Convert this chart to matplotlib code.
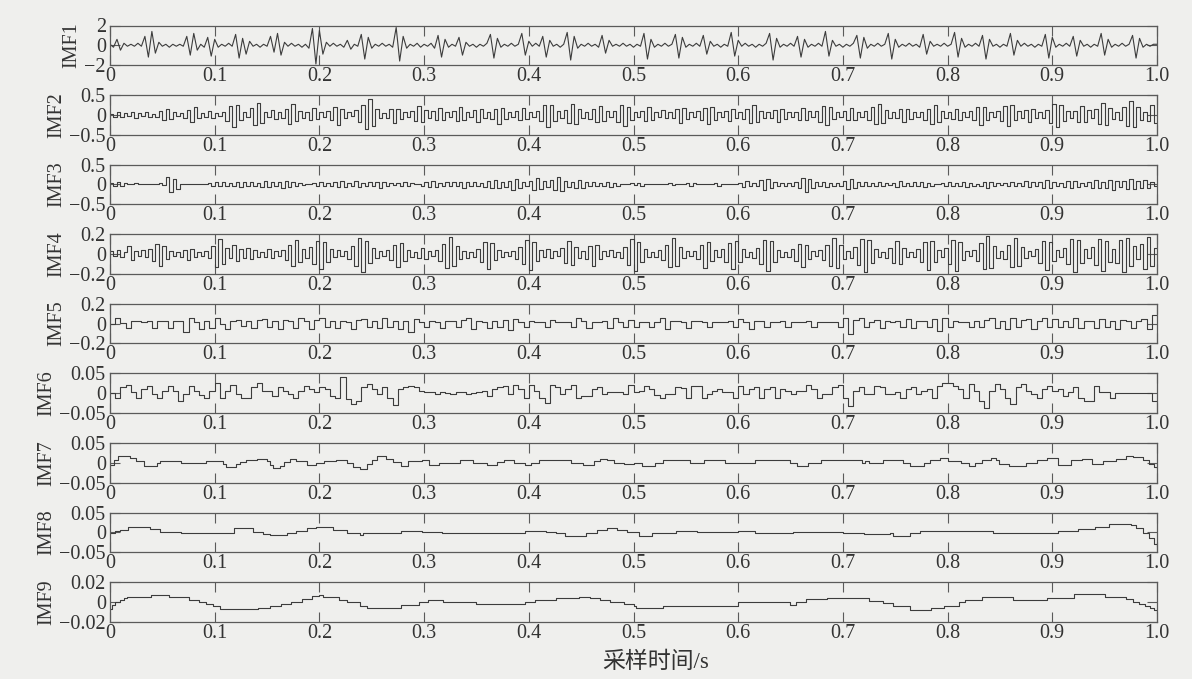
import numpy as np
import matplotlib
matplotlib.use('Agg')
import matplotlib.pyplot as plt

# ---------------- data ----------------
# High/mid frequency IMFs: uniformly sampled values, stored as scaled integers
imf1_tenths = [
    1,-2,6,-5,2,-1,1,-1,2,-1, 9,-12,14,-8,3,-1,1,-2,1,-1,
    1,-1,9,-10,12,-5,1,-2,8,-11,6,-2,1,-1,2,-1,11,-13,7,-9,
    4,-1,1,-2,1,-1,9,-7,12,-10,3,-1,2,-1,1,-2,1,-3,17,-19,
    15,-9,3,-1,2,-1,1,-2,5,-4,1,-1,11,-14,8,-3,1,-1,2,-1,
    1,-2,18,-16,9,-3,1,-1,2,-2,1,-1,2,-3,10,-12,6,-2,1,-1,
    8,-10,3,-1,1,-2,1,-1,2,11,-13,7,-2,1,-1,2,-1,1,12,-10,
    4,-1,2,-1,9,-12,5,-1,1,-2,1,13,-15,9,-3,1,-1,2,-1,1,
    -2,10,-8,5,-1,1,-1,2,-1,1,-2,1,-1,12,-14,6,-2,1,-1,2,
    -1,1,11,-13,8,-2,1,-1,2,-1,10,-9,4,-1,1,-2,1,-1,13,-11,
    5,-1,2,-1,1,-2,1,-1,2,12,-15,7,-2,1,-1,2,-1,9,-12,6,
    -2,1,-1,2,-1,14,-11,5,-1,1,-2,1,-1,2,10,-13,8,-3,1,-1,
    2,-1,1,12,-14,6,-2,1,-1,2,-1,1,-2,11,-9,4,-1,1,-1,2,
    -1,1,13,-12,7,-2,1,-1,2,-1,10,-14,6,-1,1,-2,1,-1,12,-10,
    5,-1,2,-1,1,-2,1,-1,11,-13,8,-2,1,-1,2,-1,9,-11,5,-1,
    1,-2,1,-1,12,-10,6,-2,1,-1,2,-1,1,10,-13,7,-2,1,-1,1,
]
imf2_hundredths = [
    3,-5,8,-6,4,-3,6,-8,5,-4,7,-6,3,-5,9,-12,15,-10,6,-4,
    5,-7,12,-18,20,-8,4,-6,9,-7,5,-4,8,-15,22,-30,25,-12,6,-5,
    18,-25,30,-20,8,-6,12,-10,7,-9,15,-22,28,-15,10,-8,6,-12,18,-10,
    7,-5,9,-14,20,-25,15,-8,6,-4,12,-18,25,-35,40,-28,15,-7,5,-9,
    14,-20,16,-10,8,-6,10,-15,22,-18,12,-8,9,-14,18,-12,7,-5,11,-16,
    20,-14,8,-6,12,-18,15,-9,6,-10,16,-22,18,-10,7,-5,9,-13,17,-11,
    8,-6,10,-16,24,-30,26,-15,9,-7,13,-20,28,-22,14,-8,6,-10,15,-18,
    22,-15,9,-6,11,-17,25,-28,20,-12,7,-5,10,-15,19,-13,8,-6,12,-9,
    6,-8,14,-20,17,-11,7,-5,9,-13,18,-24,20,-12,8,-6,11,-16,14,-9,
    7,-10,15,-21,26,-18,10,-7,6,-9,13,-19,16,-10,7,-5,8,-12,17,-13,
    9,-6,11,-17,22,-26,19,-11,7,-5,10,-14,18,-12,8,-6,9,-13,20,-24,
    28,-20,12,-8,6,-9,14,-18,15,-10,7,-5,8,-12,16,-22,25,-17,10,-7,
    6,-10,15,-12,8,-6,9,-14,19,-25,21,-13,8,-6,10,-15,22,-28,24,-14,
    9,-7,12,-18,15,-9,6,-8,13,-20,27,-32,26,-16,9,-7,11,-17,23,-19,
    12,-8,14,-22,30,-26,18,-10,7,-12,19,-28,35,-30,20,-12,8,-15,24,-20,
]
imf3_hundredths = [
    4,-3,5,-4,3,2,2,3,2,2,1,2,1,2,3,-2,18,-20,15,-12,
    2,1,1,1,1,1,2,1,3,-3,5,-4,6,-5,4,-3,7,-6,5,-4,
    6,-5,4,-6,8,-7,5,-3,6,-8,10,-7,5,-4,3,-2,2,1,3,-4,
    6,-5,4,-3,5,-7,9,-6,4,-5,8,-6,3,-4,6,-5,7,-8,5,-3,
    4,-2,3,-4,6,-5,3,2,2,-3,5,-6,8,-7,4,-3,5,-4,6,-5,
    7,-9,6,-4,5,-3,4,-6,9,-10,12,-8,6,-7,10,-13,15,-10,7,-5,
    9,-14,16,-12,8,-6,11,-15,18,-16,10,-7,5,-8,12,-10,6,-4,5,-3,
    4,-5,7,-6,4,-3,2,2,1,3,-2,4,-3,2,2,1,2,2,1,2,
    3,-2,2,2,1,3,-4,3,2,2,1,2,2,3,-3,2,2,1,2,2,
    4,-6,8,-5,3,-4,12,-15,14,-10,6,-4,3,-5,4,-3,5,-8,16,-18,
    14,-9,5,-4,6,-7,4,-3,3,-5,9,-12,15,-10,6,-4,5,-3,4,-5,
    6,-4,3,-2,4,-6,8,-5,3,-4,5,-3,6,-7,4,-3,2,2,3,-4,
    5,-3,4,-5,7,-6,4,-3,2,-4,6,-8,5,-4,3,-2,4,-5,6,-4,
    3,-5,8,-7,5,-4,6,-9,11,-8,5,-3,4,-6,8,-10,9,-6,4,-5,
    7,-10,12,-9,6,-8,11,-13,10,-7,9,-12,14,-11,8,-10,12,-9,6,-4,
]
imf4_hundredths = [
    3,-2,4,-3,2,8,-6,3,-2,4,-3,5,-7,10,-12,8,-5,3,-2,2,
    -3,4,-6,5,-3,2,-2,3,-4,8,-13,15,-10,6,-4,9,-7,5,-4,6,
    -5,4,-3,2,-3,5,-4,3,-2,4,-6,9,-12,14,-8,5,-4,7,-10,13,
    -15,12,-8,5,-3,4,-2,3,-5,8,-12,16,-18,13,-9,6,-4,3,-2,4,
    -6,9,-13,11,-7,4,-3,2,-4,6,-5,3,-2,4,-7,10,-14,17,-12,8,
    -5,3,-4,2,-3,5,-8,12,-15,11,-6,4,-3,2,-2,3,-5,7,-10,14,
    -16,12,-7,4,-3,5,-4,3,-2,6,-9,13,-11,7,-4,3,-5,8,-12,9,
    -5,3,-2,4,-3,2,-4,7,-11,15,-17,12,-8,5,-3,2,-3,4,-6,9,
    -13,16,-12,7,-4,3,-2,3,-5,9,-14,12,-7,4,-3,5,-8,11,-15,13,
    -8,5,-3,2,-4,6,-10,14,-17,13,-8,4,-3,2,-3,5,-7,10,-13,9,
    -5,3,-2,4,-6,9,-12,16,-14,9,-5,3,-4,7,-11,15,-18,14,-9,5,
    -3,2,-4,6,-9,13,-10,6,-3,2,-3,5,-8,12,-16,13,-8,4,-3,6,
    -10,14,-17,12,-6,3,-2,4,-7,11,-15,18,-14,8,-4,3,-5,9,-13,16,
    -12,7,-4,3,-2,5,-9,13,-16,12,-7,4,-3,6,-10,15,-18,14,-9,5,
    -4,7,-11,15,-17,13,-8,5,-9,14,-18,16,-12,8,-5,10,-15,17,-12,6,
]
imf5_hundredths = [
    0,6,1,-4,3,3,2,3,-4,3,3,-4,3,3,-8,6,2,-5,3,-4,
    6,0,-5,3,4,-2,3,-4,4,5,-3,3,-5,4,3,-4,6,3,-5,4,
    6,-3,3,-4,3,2,-5,4,5,-3,3,-4,6,-3,3,-5,3,-8,5,2,
    -3,3,2,-4,3,3,-3,4,6,-5,3,2,-4,3,-3,4,-6,5,2,-3,
    3,2,2,-3,4,2,2,2,-3,6,3,-4,2,2,3,-4,6,2,-3,4,
    -3,2,2,-3,2,6,-5,3,3,2,-4,3,3,2,-3,2,2,2,3,-3,
    5,2,-5,3,3,-3,2,2,3,-3,2,2,2,3,-3,2,2,2,2,-3,
    6,-10,4,6,-3,2,4,-4,3,2,3,-3,5,-4,3,3,-3,5,-7,6,
    -3,3,2,2,-3,3,-3,4,6,-4,3,-5,6,-3,4,5,-5,3,6,-3,
    5,-3,3,-3,6,-4,3,3,-4,5,-3,3,-5,4,3,-4,3,5,-5,9,
]
imf6_thousandths = [
    0,-11,15,20,2,-11,10,19,-3,-11,6,19,6,-20,-3,19,5,-5,-11,6,
    25,-11,6,21,-3,-11,-11,15,25,6,6,-7,15,5,-3,-11,6,19,10,2,
    15,10,-7,-11,40,-15,-28,-20,15,23,10,-3,15,-11,-30,10,15,19,17,6,
    4,2,-2,3,0,-3,2,4,-2,0,3,6,-7,10,15,19,-3,21,10,-11,
    21,5,-11,-24,21,15,-3,10,21,-11,-7,-7,10,16,-3,2,2,2,-3,21,
    2,5,19,10,-5,-11,-3,-3,15,14,-11,19,19,-11,-3,5,10,2,2,-11,
    19,-3,10,15,-11,10,15,-11,10,6,-3,6,6,21,10,-11,-3,-3,15,21,
    -11,-33,5,15,-3,-3,19,15,-3,-3,2,-11,10,15,-3,5,10,-11,19,25,
    27,19,10,-11,23,5,-20,-37,6,23,10,-11,-28,15,23,6,-3,-11,10,19,
    6,10,-7,2,15,-11,-20,-20,19,2,2,-11,0,0,0,0,0,0,0,-20,
]

# Low frequency IMFs: step levels (start time, value in thousandths)
imf7_t = [0.000,0.004,0.008,0.019,0.025,0.032,0.045,0.048,0.068,0.092,0.108,0.111,0.120,0.124,
          0.130,0.140,0.150,0.153,0.156,0.162,0.166,0.172,0.178,0.188,0.197,0.204,0.216,0.226,
          0.232,0.239,0.245,0.250,0.255,0.264,0.270,0.278,0.285,0.298,0.305,0.314,0.334,0.347,
          0.360,0.370,0.376,0.386,0.396,0.402,0.410,0.440,0.452,0.462,0.468,0.475,0.481,0.491,
          0.500,0.508,0.521,0.528,0.554,0.567,0.587,0.616,0.649,0.656,0.667,0.679,0.698,0.718,
          0.721,0.725,0.738,0.757,0.764,0.777,0.783,0.793,0.800,0.813,0.820,0.826,0.833,0.841,
          0.846,0.849,0.859,0.875,0.885,0.895,0.905,0.918,0.928,0.938,0.948,0.961,0.970,0.977,
          0.987,0.992,0.997,1.000]
imf7_v = [-5,8,18,12,4,-7,0,4,-1,4,-4,-11,-4,1,
          7,11,4,-6,-14,-7,2,9,4,-6,0,4,8,0,
          -10,-15,-4,7,17,11,3,-8,5,6,-6,0,6,0,
          -5,1,6,0,-6,0,6,0,-6,4,11,8,0,-4,
          0,-8,0,6,0,6,0,6,0,-8,0,8,6,0,
          4,0,6,0,-8,0,8,12,4,0,-8,0,8,12,
          6,-2,-8,0,8,12,-6,6,11,-3,4,11,17,14,
          7,-3,-10,-12]
imf8_t = [0.000,0.005,0.010,0.0175,0.038,0.048,0.068,0.118,0.137,0.146,0.153,0.169,0.178,0.188,
          0.197,0.213,0.226,0.239,0.242,0.245,0.278,0.298,0.317,0.396,0.416,0.426,0.435,0.455,
          0.465,0.475,0.484,0.494,0.505,0.518,0.541,0.561,0.600,0.616,0.652,0.700,0.720,0.745,
          0.748,0.764,0.774,0.843,0.905,0.925,0.941,0.954,0.975,0.980,0.987,0.992,0.997,1.000]
imf8_v = [-2,4,6,14,8,2,-1,10,2,-4,-7,-1,4,10,
          15,6,-1,-6,-1,-2,3,0,-2,3,2,-2,-9,-2,
          6,12,6,0,-8,-2,3,0,3,-2,0,-2,-4,-2,
          -9,-2,3,-2,3,8,14,21,18,10,-2,-15,-30,-35]
imf9_t = [0.000,0.002,0.005,0.010,0.013,0.016,0.039,0.056,0.075,0.085,0.092,0.098,0.105,0.141,
          0.153,0.163,0.173,0.183,0.193,0.200,0.203,0.219,0.226,0.239,0.245,0.278,0.295,0.304,
          0.318,0.350,0.396,0.406,0.426,0.448,0.458,0.468,0.478,0.491,0.500,0.502,0.528,0.600,
          0.649,0.655,0.665,0.685,0.725,0.738,0.748,0.764,0.784,0.797,0.811,0.817,0.833,0.862,
          0.895,0.921,0.950,0.970,0.977,0.983,0.989,0.993,0.997,1.000]
imf9_v = [-7,-3,0,2,4,5,7,5,2,0,-2,-4,-7,-6,
          -4,-2,0,3,6,7,5,2,0,-4,-6,-3,0,2,
          0,-2,0,2,4,5,4,2,0,-2,-4,-6,-4,0,
          -3,0,3,4,1,-1,-4,-8,-6,-4,0,2,5,2,
          4,8,5,3,0,-2,-4,-6,-8,-11]

labels = ['IMF1', 'IMF2', 'IMF3', 'IMF4', 'IMF5', 'IMF6', 'IMF7', 'IMF8', 'IMF9']
ylims = [2, 0.5, 0.5, 0.2, 0.2, 0.05, 0.05, 0.05, 0.02]
ytick_labels = [['\u22122', '0', '2'], ['\u22120.5', '0', '0.5'], ['\u22120.5', '0', '0.5'],
                ['\u22120.2', '0', '0.2'], ['\u22120.2', '0', '0.2'], ['\u22120.05', '0', '0.05'],
                ['\u22120.05', '0', '0.05'], ['\u22120.05', '0', '0.05'], ['\u22120.02', '0', '0.02']]
xtick_vals = [0, 0.1, 0.2, 0.3, 0.4, 0.5, 0.6, 0.7, 0.8, 0.9, 1.0]
xtick_labels = ['0', '0.1', '0.2', '0.3', '0.4', '0.5', '0.6', '0.7', '0.8', '0.9', '1.0']
xlabel_text = '采样时间/s'

# ---------------- build series ----------------
def uniform(vals, scale):
    v = np.asarray(vals, dtype=float) * scale
    n = len(v)
    x = np.append(np.arange(n) / n, 1.0)
    return x, np.append(v, v[-1])

series = [
    uniform(imf1_tenths, 0.1),
    uniform(imf2_hundredths, 0.01),
    uniform(imf3_hundredths, 0.01),
    uniform(imf4_hundredths, 0.01),
    uniform(imf5_hundredths, 0.01),
    uniform(imf6_thousandths, 0.001),
    (np.array(imf7_t), np.array(imf7_v) * 0.001),
    (np.array(imf8_t), np.array(imf8_v) * 0.001),
    (np.array(imf9_t), np.array(imf9_v) * 0.001),
]
drawstyles = ['default'] + ['steps-post'] * 8

# ---------------- figure ----------------
plt.rcParams['font.family'] = ['Liberation Serif', 'Noto Sans CJK SC']
plt.rcParams['axes.unicode_minus'] = True

W, H = 1192, 679
BG = '#efefed'
LINE = '#3c3c3c'
EDGE = '#5a5a5a'
TXT = '#333333'
FS = 14.5

fig = plt.figure(figsize=(W / 100, H / 100), dpi=100)
fig.patch.set_facecolor(BG)

left_px, right_px = 110, 1157
top0, step, ph = 25.5, 69.6, 39.5

for i in range(9):
    top = top0 + step * i
    ax = fig.add_axes([left_px / W, 1 - (top + ph) / H, (right_px - left_px) / W, ph / H])
    ax.set_facecolor(BG)
    x, y = series[i]
    ax.plot(x, y, drawstyle=drawstyles[i], color=LINE, lw=0.8)
    ax.set_xlim(0, 1)
    ax.set_ylim(-ylims[i], ylims[i])
    ax.set_xticks(xtick_vals)
    ax.set_xticklabels(xtick_labels)
    ax.set_yticks([-ylims[i], 0, ylims[i]])
    ax.set_yticklabels(ytick_labels[i])
    ax.tick_params(direction='in', top=True, right=True, length=7, width=0.8,
                   color=EDGE, labelcolor=TXT, labelsize=FS)
    ax.tick_params(axis='x', pad=1.5)
    ax.tick_params(axis='y', pad=3)
    for s in ax.spines.values():
        s.set_color(EDGE)
        s.set_linewidth(0.9)
    ax.set_ylabel(labels[i], fontsize=FS, color=TXT, labelpad=2)

fig.text(656 / W, 1 - 662 / H, xlabel_text, ha='center', va='center', fontsize=16.5, color=TXT)

fig.savefig('out.png', dpi=100, facecolor=BG)
